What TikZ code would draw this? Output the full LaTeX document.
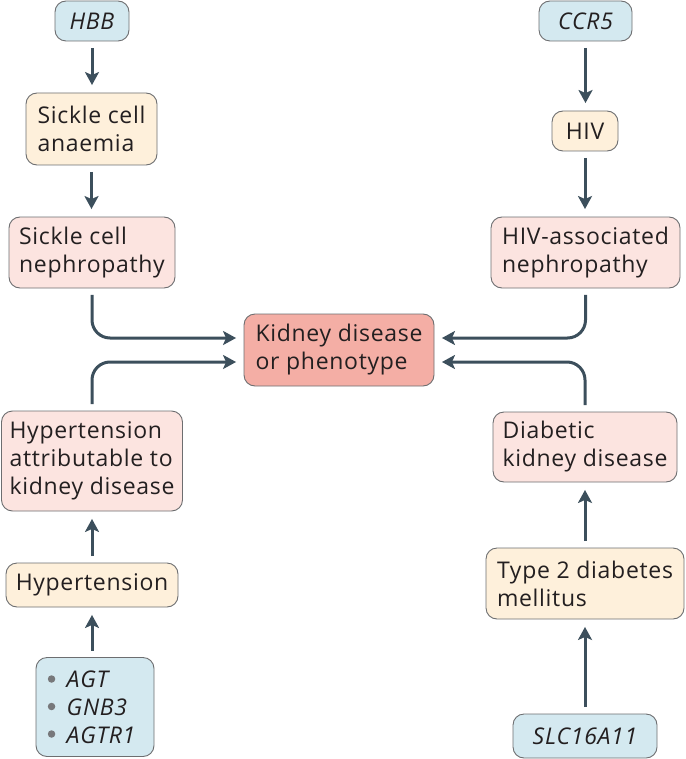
\documentclass[tikz,border=0pt]{standalone}
\usepackage{fontspec}
\setmainfont[LetterSpace=3]{Open Sans}
\usetikzlibrary{arrows.meta}
\definecolor{gblue}{HTML}{D4E9F0}
\definecolor{peach}{HTML}{FEF0DB}
\definecolor{pinkb}{HTML}{FCE4E0}
\definecolor{kid}{HTML}{F4AEA5}
\definecolor{edge}{HTML}{6D6E70}
\definecolor{arrowc}{HTML}{3C4F5C}
\definecolor{ink}{HTML}{231F20}
\definecolor{bul}{HTML}{77787B}
\begin{document}
\begin{tikzpicture}[x=1pt,y=-1pt,
 box/.style={draw=edge, line width=0.9pt, rounded corners=11pt, inner sep=0pt, align=left, text=ink, font=\fontsize{23}{28}\selectfont},
 arr/.style={draw=arrowc, line width=3pt, -{Stealth[length=13pt,width=14pt,inset=3pt]}, shorten <=6.5pt, shorten >=7.5pt},
 conn/.style={arr, rounded corners=18pt},
 dot/.style={fill=bul, circle, inner sep=0pt, minimum size=7.5pt},
]
\useasboundingbox (0,0) rectangle (685,759);
% left column
\node[box, fill=gblue, minimum width=74pt, minimum height=40pt] (hbb) at (92,21) {\itshape HBB};
\node[box, fill=peach, minimum width=131pt, minimum height=72pt] (sca) at (91.5,129) {Sickle cell\\anaemia};
\node[box, fill=pinkb, minimum width=166pt, minimum height=71pt] (scn) at (92,252.5) {Sickle cell\\nephropathy};
\node[box, fill=kid, minimum width=190pt, minimum height=72pt] (kd) at (339,350) {Kidney disease\\or phenotype};
\node[box, fill=pinkb, minimum width=181pt, minimum height=100pt] (hak) at (92,461) {Hypertension\\attributable to\\kidney disease};
\node[box, fill=peach, minimum width=172pt, minimum height=44pt] (ht) at (92,585) {Hypertension};
\node[box, fill=gblue, minimum width=118pt, minimum height=99pt] (agt) at (95,707)
 {\hspace*{12pt}\itshape AGT\\\hspace*{12pt}\itshape GNB3\\\hspace*{12pt}\itshape AGTR1};
\node[dot] (d1) at ([shift={(16,-28)}]agt.west) {};
\node[dot] (d2) at ([shift={(16,-0.5)}]agt.west) {};
\node[dot] (d3) at ([shift={(16,27)}]agt.west) {};
% right column
\node[box, fill=gblue, minimum width=93pt, minimum height=40pt] (ccr) at (585.5,21) {\itshape CCR5};
\node[box, fill=peach, minimum width=66pt, minimum height=40pt] (hiv) at (585,131) {HIV};
\node[box, fill=pinkb, minimum width=189pt, minimum height=71pt] (hivan) at (585.5,252.5) {HIV-associated\\nephropathy};
\node[box, fill=pinkb, minimum width=184pt, minimum height=70pt] (dkd) at (585,447) {Diabetic\\kidney disease};
\node[box, fill=peach, minimum width=198pt, minimum height=71pt] (t2d) at (585,583.5) {Type 2 diabetes\\mellitus};
\node[box, fill=gblue, minimum width=144pt, minimum height=44pt] (slc) at (585,736) {\itshape SLC16A11};
% straight arrows
\draw[arr] (hbb.south) -- (hbb.south |- sca.north);
\draw[arr] (sca.south) -- (sca.south |- scn.north);
\draw[arr] (ht.north) -- (ht.north |- hak.south);
\draw[arr] (agt.north -| ht.south) -- (ht.south);
\draw[arr] (ccr.south) -- (ccr.south |- hiv.north);
\draw[arr] (hiv.south) -- (hiv.south |- hivan.north);
\draw[arr] (t2d.north) -- (t2d.north |- dkd.south);
\draw[arr] (slc.north) -- (slc.north |- t2d.south);
% connectors to kidney disease
\draw[conn] (scn.south) |- ([yshift=12pt]kd.west);
\draw[conn] (hak.north) |- ([yshift=-12pt]kd.west);
\draw[conn] (hivan.south) |- ([yshift=12pt]kd.east);
\draw[conn] (dkd.north) |- ([yshift=-12pt]kd.east);
\end{tikzpicture}
\end{document}
